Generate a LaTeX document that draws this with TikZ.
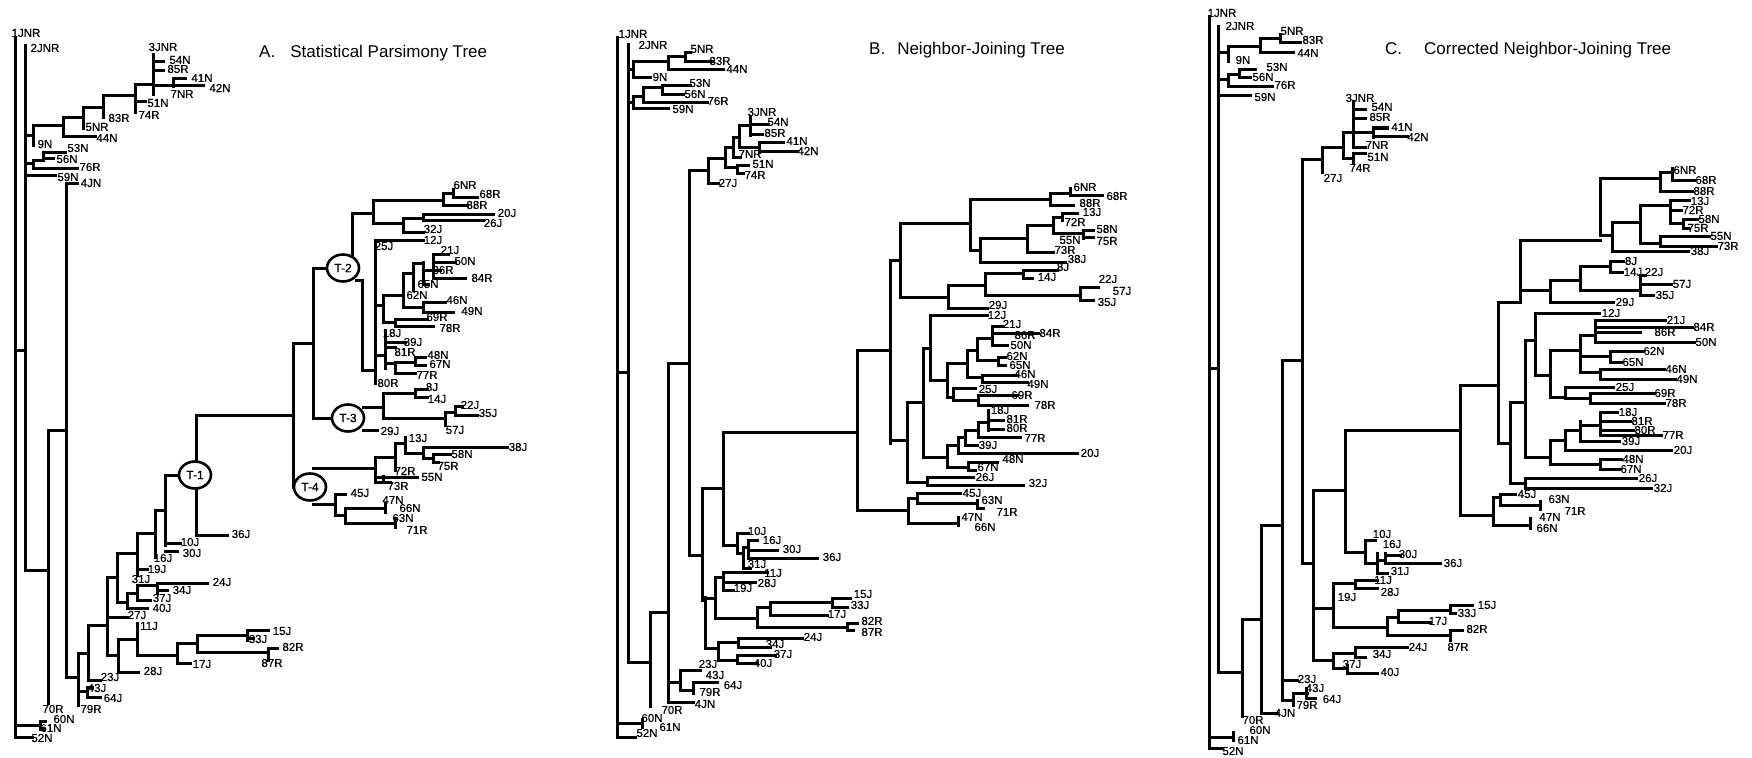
\documentclass[tikz,border=0pt]{standalone}
\usepackage{fontspec}
\setmainfont{Liberation Sans}
\newfontfamily\labfont[FakeBold=0.5]{Liberation Sans}
\usetikzlibrary{shapes.geometric}
\newcommand\hh[3]{\draw[br] (#2,#1) -- (#3,#1);}
\newcommand\vv[3]{\draw[br] (#1,#2) -- (#1,#3);}
\newcommand\LA[3]{\node[lab] (A-#3) at (#1,#2) {#3};}
\newcommand\LB[3]{\node[lab] (B-#3) at (#1,#2) {#3};}
\newcommand\LC[3]{\node[lab] (C-#3) at (#1,#2) {#3};}
\tikzset{
  br/.style={line width=3pt, line cap=rect},
  lab/.style={inner sep=0pt, font=\labfont\fontsize{11.5}{12}\selectfont},
  ttl/.style={inner sep=0pt, anchor=west, font=\fontsize{17}{18}\selectfont},
  tnode/.style={ellipse, draw, line width=2.6pt, fill=white, minimum width=32pt, minimum height=27pt, inner sep=0pt, font=\labfont\fontsize{12}{12}\selectfont}
}
\begin{document}
\begin{tikzpicture}[x=1pt,y=-1pt]
\fill[white] (0,0) rectangle (1752,757);
\useasboundingbox (0,0) rectangle (1752,757);
% ================= TREE A =================
\vv{15}{38}{737}\hh{737}{15}{32}
\hh{725}{15}{40}\vv{40}{721}{729}\hh{721}{40}{45}\hh{729}{40}{44}
\hh{350}{15}{25}\vv{25}{46}{570}\hh{570}{25}{48}\vv{48}{430}{703}
\hh{430}{48}{66}\vv{66}{183}{677}\hh{183}{66}{77}
\hh{677}{66}{78}\vv{78}{653}{705}\hh{691}{78}{87}\vv{87}{687}{697}\hh{697}{87}{100}\hh{687}{87}{92}
\hh{653}{78}{88}\vv{88}{625}{680}\hh{680}{88}{100}\hh{625}{88}{107}
\vv{107}{577}{655}\hh{655}{107}{118}\vv{118}{639}{672}\hh{672}{118}{138}
\hh{639}{118}{137}\vv{137}{623}{655}\hh{655}{137}{177}\vv{177}{643}{663}\hh{663}{177}{190}
\hh{643}{177}{197}\vv{197}{635}{652}\hh{635}{197}{247}\vv{247}{630}{640}\hh{630}{247}{268}\hh{638}{247}{253}
\hh{652}{197}{268}\vv{268}{648}{660}\hh{648}{268}{277}
\hh{617}{107}{127}\hh{577}{107}{117}\vv{117}{553}{602}\hh{602}{117}{127}\vv{127}{593}{608}\hh{608}{127}{147}
\hh{593}{127}{137}\vv{137}{585}{600}\hh{600}{137}{150}\hh{585}{137}{157}\vv{157}{583}{593}\hh{583}{157}{207}\hh{590}{157}{167}
\hh{553}{117}{137}\vv{137}{533}{575}\hh{569}{137}{147}\hh{533}{137}{155}\vv{155}{510}{557}
\hh{510}{155}{165}\vv{165}{475}{545}\hh{475}{165}{180}\hh{543}{165}{180}\hh{551}{165}{177}
% T-1 and upper
\vv{196}{415}{462}\vv{196}{488}{535}\hh{535}{196}{227}\hh{415}{196}{293}
\vv{293}{343}{487}\hh{487}{293}{296}\hh{343}{293}{313}\vv{313}{268}{418}
\hh{268}{313}{328}\hh{418}{313}{333}
% left clusters
\hh{135}{25}{33}\vv{33}{126}{145}\hh{126}{33}{63}\vv{63}{118}{136}\hh{136}{63}{95}
\hh{118}{63}{83}\vv{83}{108}{128}\hh{108}{83}{103}\vv{103}{96}{118}
\hh{96}{103}{135}\vv{135}{85}{113}\hh{102}{135}{145}
\hh{85}{135}{153}\vv{153}{55}{95}\hh{62}{153}{163}\hh{71}{153}{163}\hh{86}{153}{203}
\vv{173}{79}{87}\hh{79}{173}{185}
\hh{163}{25}{33}\vv{33}{160}{168}\hh{168}{33}{77}\hh{160}{33}{43}\vv{43}{152}{159}\hh{152}{43}{65}\hh{158}{43}{53}
\hh{175}{25}{55}
% T-2 upper
\vv{352}{213}{255}\hh{213}{352}{373}\vv{373}{200}{223}\hh{200}{373}{443}\vv{443}{193}{205}\hh{205}{443}{467}
\hh{193}{443}{453}\vv{453}{189}{197}\hh{197}{453}{477}
\hh{223}{373}{403}\vv{403}{218}{232}\hh{218}{403}{423}\vv{423}{214}{220}\hh{214}{423}{493}\hh{220}{423}{483}\hh{232}{403}{423}
% T-2 lower
\hh{280}{356}{362}\vv{362}{280}{370}\hh{370}{362}{375}\vv{375}{240}{383}\hh{240}{375}{423}
\hh{305}{375}{383}\vv{383}{295}{322}\hh{295}{383}{403}\vv{403}{273}{307}\hh{273}{403}{413}\vv{413}{263}{290}
\hh{263}{413}{423}\vv{423}{262}{284}\hh{270}{423}{433}\vv{433}{254}{278}
\hh{254}{433}{448}\hh{262}{433}{455}\hh{270}{433}{440}\hh{278}{433}{465}\hh{284}{423}{428}
\hh{307}{403}{423}\vv{423}{302}{312}\hh{302}{423}{445}\hh{312}{423}{453}
\hh{322}{383}{395}\vv{395}{319}{326}\hh{319}{395}{427}\hh{326}{395}{433}
\vv{385}{330}{368}\hh{342}{385}{405}\hh{347}{385}{395}\hh{355}{375}{385}
\hh{363}{385}{395}\vv{395}{362}{373}\hh{362}{395}{415}\vv{415}{357}{365}\hh{357}{415}{425}\hh{365}{415}{425}\hh{373}{395}{415}
% T-3
\hh{407}{363}{383}\vv{383}{393}{418}\hh{393}{383}{415}\vv{415}{389}{397}\hh{389}{415}{427}\hh{397}{415}{427}
\hh{418}{383}{445}\vv{445}{412}{425}\hh{412}{445}{455}\vv{455}{406}{415}\hh{415}{455}{477}\hh{406}{455}{462}
\hh{430}{363}{377}
% T-4
\hh{468}{313}{375}\vv{375}{457}{482}\hh{457}{375}{395}\vv{395}{443}{470}\hh{443}{395}{405}\vv{405}{437}{453}
\hh{453}{405}{423}\vv{423}{447}{458}\hh{447}{423}{507}\hh{458}{423}{433}\vv{433}{454}{462}\hh{454}{433}{450}\hh{462}{433}{438}
\hh{477}{375}{383}\vv{383}{476}{482}\hh{477}{383}{417}\hh{482}{375}{390}
\hh{504}{313}{335}\vv{335}{494}{515}\hh{494}{335}{345}\hh{515}{335}{345}\vv{345}{508}{523}
\hh{508}{345}{385}\vv{385}{503}{512}\hh{523}{345}{395}\vv{395}{518}{527}
\node[tnode] (T1) at (195,475) {T-1};
\node[tnode] (T2) at (343,268) {T-2};
\node[tnode] (T3) at (348,418) {T-3};
\node[tnode] (T4) at (310,487) {T-4};
\node[ttl] (tA) at (259,53) {A.\hspace{15pt}Statistical Parsimony Tree};
\LA{26}{33}{1JNR}\LA{45}{48}{2JNR}\LA{163}{47}{3JNR}\LA{180}{60}{54N}\LA{178}{69}{85R}\LA{202}{78}{41N}
\LA{220}{88}{42N}\LA{182}{94}{7NR}\LA{158}{103}{51N}\LA{149}{115}{74R}\LA{119}{118}{83R}\LA{97}{127}{5NR}
\LA{107}{138}{44N}\LA{45}{144}{9N}\LA{78}{148}{53N}\LA{67}{159}{56N}\LA{90}{167}{76R}\LA{68}{177}{59N}\LA{91}{183}{4JN}
\LA{465}{185}{6NR}\LA{490}{194}{68R}\LA{477}{205}{88R}\LA{507}{213}{20J}\LA{493}{223}{26J}\LA{433}{229}{32J}
\LA{433}{240}{12J}\LA{384}{246}{25J}\LA{450}{250}{21J}\LA{465}{261}{50N}\LA{443}{270}{86R}\LA{482}{278}{84R}
\LA{428}{284}{65N}\LA{417}{295}{62N}\LA{457}{300}{46N}\LA{472}{311}{49N}\LA{437}{317}{69R}\LA{450}{328}{78R}
\LA{392}{333}{18J}\LA{413}{342}{39J}\LA{405}{352}{81R}\LA{438}{355}{48N}\LA{440}{364}{67N}\LA{427}{375}{77R}
\LA{388}{383}{80R}\LA{432}{387}{8J}\LA{437}{399}{14J}\LA{470}{405}{22J}\LA{488}{413}{35J}\LA{390}{431}{29J}
\LA{455}{430}{57J}\LA{418}{438}{13J}\LA{518}{447}{38J}\LA{462}{454}{58N}\LA{448}{466}{75R}\LA{405}{471}{72R}
\LA{432}{477}{55N}\LA{398}{486}{73R}\LA{360}{493}{45J}\LA{393}{500}{47N}\LA{410}{508}{66N}\LA{403}{518}{63N}\LA{417}{530}{71R}
\LA{241}{534}{36J}\LA{190}{542}{10J}\LA{192}{553}{30J}\LA{163}{558}{16J}\LA{157}{569}{19J}\LA{141}{579}{31J}
\LA{222}{582}{24J}\LA{182}{590}{34J}\LA{162}{598}{37J}\LA{162}{608}{40J}\LA{137}{615}{27J}\LA{149}{626}{11J}
\LA{282}{631}{15J}\LA{258}{639}{33J}\LA{293}{647}{82R}\LA{272}{663}{87R}\LA{202}{664}{17J}\LA{153}{671}{28J}
\LA{110}{677}{23J}\LA{97}{688}{43J}\LA{113}{698}{64J}\LA{91}{709}{79R}\LA{53}{709}{70R}\LA{64}{719}{60N}\LA{51}{728}{61N}\LA{42}{738}{52N}
% ================= TREE B =================
\vv{617}{38}{737}\hh{737}{617}{635}\hh{723}{617}{642}\vv{642}{719}{727}
\hh{372}{617}{628}\vv{628}{45}{662}\hh{662}{628}{650}\vv{650}{612}{706}\hh{612}{650}{668}
\vv{668}{363}{702}\hh{363}{668}{689}\vv{689}{170}{555}\hh{555}{689}{702}\vv{702}{488}{600}
\hh{488}{702}{723}\vv{723}{432}{545}\hh{545}{723}{737}\vv{737}{533}{553}\hh{533}{737}{748}
\hh{553}{737}{743}\vv{743}{547}{568}\hh{568}{743}{750}\hh{547}{743}{748}\vv{748}{540}{558}
\hh{540}{748}{757}\hh{550}{748}{777}\hh{558}{748}{817}
\hh{432}{723}{857}\vv{857}{350}{510}\hh{350}{857}{890}\hh{510}{857}{908}
\hh{70}{628}{633}\vv{633}{62}{78}\hh{78}{633}{650}\hh{62}{633}{668}\vv{668}{57}{70}\hh{70}{668}{723}
\hh{57}{668}{685}\vv{685}{53}{62}\hh{62}{685}{713}\hh{53}{685}{690}
\hh{103}{628}{633}\vv{633}{97}{109}\hh{109}{633}{668}\hh{97}{633}{643}\vv{643}{88}{103}\hh{103}{643}{707}
\hh{88}{643}{662}\vv{662}{86}{95}\hh{86}{662}{690}\hh{95}{662}{683}
\hh{170}{689}{708}\vv{708}{158}{183}\hh{183}{708}{718}\hh{158}{708}{725}\vv{725}{147}{167}\hh{167}{725}{737}
\vv{737}{165}{173}\hh{165}{737}{748}\hh{173}{737}{743}\hh{147}{725}{733}\vv{733}{137}{157}\hh{157}{733}{740}
\hh{137}{733}{739}\vv{739}{126}{147}\hh{147}{739}{759}\vv{759}{142}{152}\hh{142}{759}{783}\hh{151}{759}{797}
\hh{126}{739}{750}\vv{750}{117}{135}\hh{125}{750}{768}\hh{134}{750}{762}
\hh{598}{702}{715}\vv{705}{597}{648}\hh{648}{705}{718}
\vv{715}{577}{618}\hh{577}{715}{723}\vv{723}{572}{590}\hh{572}{723}{767}\hh{582}{723}{755}\hh{590}{723}{733}
\hh{618}{715}{757}\vv{757}{607}{627}\hh{607}{757}{770}\vv{770}{602}{615}\hh{602}{770}{832}\vv{832}{598}{607}
\hh{598}{832}{850}\hh{607}{832}{847}\hh{615}{770}{827}\hh{627}{757}{847}\vv{847}{623}{630}\hh{623}{847}{857}\hh{630}{847}{853}
\vv{718}{642}{660}\hh{642}{718}{738}\vv{738}{638}{647}\hh{638}{738}{802}\hh{647}{738}{770}\hh{660}{718}{737}
\vv{737}{655}{663}\hh{655}{737}{775}\hh{663}{737}{757}
\hh{682}{668}{680}\vv{680}{670}{690}\hh{670}{680}{700}\hh{690}{680}{693}\vv{693}{682}{693}\hh{682}{693}{717}
\hh{702}{668}{693}
\vv{890}{260}{443}\hh{260}{890}{900}\vv{900}{223}{297}\hh{223}{900}{970}\vv{970}{199}{250}
\hh{199}{970}{1050}\vv{1050}{193}{205}\hh{193}{1050}{1070}\vv{1070}{188}{195}\hh{195}{1070}{1102}\hh{205}{1050}{1073}
\hh{250}{970}{980}\vv{980}{238}{262}\hh{262}{980}{1065}\hh{238}{980}{1027}\vv{1027}{225}{252}\hh{252}{1027}{1053}
\hh{225}{1027}{1053}\vv{1053}{217}{233}\hh{217}{1053}{1062}\vv{1062}{213}{220}\hh{213}{1062}{1077}
\hh{233}{1053}{1083}\vv{1083}{230}{238}\hh{230}{1083}{1093}\hh{237}{1083}{1093}
\hh{297}{900}{948}\vv{948}{285}{308}\hh{308}{948}{987}\hh{285}{948}{985}\vv{985}{273}{295}
\hh{273}{985}{1023}\vv{1023}{270}{278}\hh{270}{1023}{1057}\hh{278}{1023}{1032}
\hh{295}{985}{1080}\vv{1080}{287}{300}\hh{287}{1080}{1098}\hh{300}{1080}{1093}
\hh{440}{890}{907}\vv{907}{402}{482}\hh{402}{907}{923}\hh{482}{907}{927}
\vv{923}{348}{457}\hh{348}{923}{930}\vv{930}{315}{380}\hh{315}{930}{987}\hh{380}{930}{947}
\vv{947}{363}{397}\hh{363}{947}{967}\vv{967}{350}{377}\hh{377}{967}{982}\vv{982}{375}{382}
\hh{375}{982}{1017}\hh{382}{982}{1027}\hh{350}{967}{977}\vv{977}{338}{360}\hh{360}{977}{998}
\vv{998}{357}{365}\hh{357}{998}{1005}\hh{365}{998}{1005}\hh{338}{977}{992}\vv{992}{326}{345}
\hh{326}{992}{1002}\hh{333}{992}{1038}\hh{345}{992}{1007}
\hh{397}{947}{953}\vv{953}{388}{400}\hh{388}{953}{975}\hh{400}{953}{978}\vv{978}{395}{405}\hh{395}{978}{1017}\hh{405}{978}{1027}
\hh{457}{923}{947}\vv{947}{445}{467}\hh{445}{947}{958}\vv{958}{437}{453}\hh{453}{958}{1077}\hh{437}{958}{965}
\vv{965}{430}{445}\hh{445}{965}{977}\hh{430}{965}{978}\vv{978}{422}{437}\hh{437}{978}{1020}\hh{422}{978}{988}
\vv{988}{410}{430}\hh{420}{988}{1003}\hh{429}{988}{1003}
\hh{467}{947}{968}\vv{968}{462}{470}\hh{462}{968}{997}\hh{470}{968}{975}
\vv{927}{477}{485}\hh{477}{927}{973}\hh{485}{927}{1023}
\vv{908}{498}{523}\hh{498}{908}{917}\vv{917}{493}{503}\hh{493}{917}{960}\hh{503}{917}{977}
\vv{977}{500}{508}\hh{508}{977}{983}\hh{523}{908}{957}\vv{958}{517}{525}
\node[ttl] (tB) at (869,50) {B.\hspace{12pt}Neighbor-Joining Tree};
\LB{633}{34}{1JNR}\LB{653}{45}{2JNR}\LB{702}{49}{5NR}\LB{720}{61}{83R}\LB{737}{69}{44N}\LB{660}{77}{9N}
\LB{700}{83}{53N}\LB{695}{94}{56N}\LB{718}{101}{76R}\LB{683}{109}{59N}\LB{762}{112}{3JNR}\LB{778}{122}{54N}
\LB{775}{133}{85R}\LB{797}{141}{41N}\LB{808}{151}{42N}\LB{750}{154}{7NR}\LB{763}{164}{51N}\LB{755}{175}{74R}\LB{728}{183}{27J}
\LB{1085}{187}{6NR}\LB{1117}{196}{68R}\LB{1090}{203}{88R}\LB{1092}{212}{13J}\LB{1075}{222}{72R}\LB{1107}{229}{58N}
\LB{1070}{240}{55N}\LB{1107}{241}{75R}\LB{1065}{250}{73R}\LB{1077}{259}{38J}\LB{1063}{267}{8J}\LB{1047}{277}{14J}
\LB{1108}{279}{22J}\LB{1122}{291}{57J}\LB{1107}{302}{35J}\LB{998}{305}{29J}\LB{997}{315}{12J}\LB{1012}{324}{21J}
\LB{1050}{333}{84R}\LB{1025}{335}{86R}\LB{1021}{345}{50N}\LB{1017}{356}{62N}\LB{1020}{365}{65N}\LB{1025}{374}{46N}
\LB{1038}{384}{49N}\LB{988}{389}{25J}\LB{1022}{395}{69R}\LB{1045}{405}{78R}\LB{1000}{410}{18J}\LB{1017}{419}{81R}
\LB{1017}{428}{80R}\LB{1035}{438}{77R}\LB{988}{445}{39J}\LB{1090}{453}{20J}\LB{1013}{459}{48N}\LB{988}{467}{67N}
\LB{985}{477}{26J}\LB{1038}{483}{32J}\LB{972}{493}{45J}\LB{992}{500}{63N}\LB{1007}{512}{71R}\LB{972}{517}{47N}\LB{985}{527}{66N}
\LB{757}{531}{10J}\LB{772}{540}{16J}\LB{792}{549}{30J}\LB{832}{557}{36J}\LB{757}{564}{31J}\LB{773}{573}{11J}
\LB{767}{583}{28J}\LB{743}{588}{19J}\LB{863}{594}{15J}\LB{860}{605}{33J}\LB{837}{614}{17J}\LB{872}{621}{82R}
\LB{872}{632}{87R}\LB{813}{637}{24J}\LB{775}{644}{34J}\LB{783}{654}{37J}\LB{763}{663}{40J}\LB{708}{664}{23J}
\LB{715}{675}{43J}\LB{733}{685}{64J}\LB{710}{692}{79R}\LB{705}{704}{4JN}\LB{672}{710}{70R}\LB{652}{718}{60N}
\LB{670}{727}{61N}\LB{647}{733}{52N}
% ================= TREE C =================
\vv{1209}{17}{748}\hh{748}{1209}{1222}\hh{737}{1209}{1233}\vv{1233}{732}{740}
\hh{368}{1209}{1218}\vv{1218}{27}{672}
\hh{53}{1218}{1228}\vv{1228}{47}{62}\hh{47}{1228}{1260}\vv{1260}{39}{53}\hh{53}{1260}{1293}\hh{39}{1260}{1280}\vv{1280}{35}{43}\hh{43}{1280}{1300}
\hh{80}{1218}{1228}\vv{1228}{75}{87}\hh{87}{1228}{1272}\hh{75}{1228}{1239}\vv{1239}{70}{78}\hh{70}{1239}{1255}\hh{78}{1239}{1250}
\hh{96}{1218}{1250}
\hh{672}{1218}{1242}\vv{1242}{619}{716}\hh{619}{1242}{1261}\vv{1261}{525}{713}\hh{713}{1261}{1277}
\hh{525}{1261}{1282}\vv{1282}{360}{700}\hh{360}{1282}{1302}\vv{1302}{159}{563}
\hh{159}{1302}{1322}\vv{1322}{147}{172}\hh{147}{1322}{1343}\vv{1343}{132}{158}\hh{158}{1343}{1353}\vv{1353}{153}{163}
\hh{153}{1353}{1365}\hh{132}{1343}{1373}\vv{1353}{102}{147}\hh{110}{1353}{1365}\hh{119}{1353}{1365}\hh{147}{1353}{1365}
\vv{1373}{128}{137}\hh{128}{1373}{1387}\hh{136}{1373}{1407}
\hh{680}{1282}{1297}\hh{700}{1282}{1293}\vv{1293}{693}{705}\hh{693}{1293}{1307}\vv{1306}{688}{698}\hh{698}{1306}{1315}
\hh{563}{1302}{1313}\vv{1313}{490}{660}\hh{490}{1313}{1345}\vv{1345}{430}{552}\hh{430}{1345}{1460}
\hh{552}{1345}{1365}\vv{1365}{540}{563}\hh{540}{1365}{1375}\hh{563}{1365}{1377}\vv{1377}{553}{573}
\hh{573}{1377}{1387}\hh{560}{1377}{1385}\vv{1385}{553}{563}\hh{555}{1385}{1400}\hh{563}{1385}{1440}
\hh{608}{1313}{1333}\vv{1333}{583}{627}\hh{583}{1333}{1355}\vv{1355}{580}{588}\hh{580}{1355}{1377}\hh{588}{1355}{1377}
\hh{627}{1333}{1387}\vv{1387}{617}{635}\hh{617}{1387}{1398}\vv{1398}{610}{622}\hh{610}{1398}{1450}
\vv{1450}{605}{613}\hh{605}{1450}{1472}\hh{613}{1450}{1455}\hh{622}{1398}{1430}
\hh{635}{1387}{1450}\vv{1450}{630}{640}\hh{630}{1450}{1462}
\hh{660}{1313}{1333}\vv{1333}{653}{668}\hh{653}{1333}{1355}\vv{1355}{647}{657}\hh{647}{1355}{1407}\hh{657}{1355}{1365}
\hh{668}{1333}{1347}\vv{1347}{665}{673}\hh{673}{1347}{1377}
% C right
\vv{1460}{385}{515}\hh{385}{1460}{1498}\vv{1498}{302}{443}
\hh{302}{1498}{1520}\vv{1520}{240}{302}
\hh{240}{1520}{1600}\vv{1600}{178}{235}
\hh{178}{1600}{1660}\vv{1660}{172}{191}\hh{191}{1660}{1692}\hh{172}{1660}{1672}\vv{1672}{168}{180}\hh{180}{1672}{1694}
\hh{235}{1600}{1612}\vv{1612}{222}{251}\hh{251}{1612}{1688}
\hh{222}{1612}{1640}\vv{1640}{205}{243}\hh{243}{1640}{1660}\vv{1660}{236}{246}\hh{236}{1660}{1709}\hh{246}{1660}{1716}
\hh{205}{1640}{1670}\vv{1670}{200}{223}\hh{200}{1670}{1689}\hh{210}{1670}{1681}\hh{223}{1670}{1683}\vv{1683}{219}{228}\hh{219}{1683}{1697}\hh{228}{1683}{1688}
\hh{290}{1520}{1550}\vv{1550}{280}{302}\hh{302}{1550}{1613}\hh{280}{1550}{1580}\vv{1580}{266}{290}
\hh{266}{1580}{1610}\vv{1610}{261}{272}\hh{261}{1610}{1623}\hh{272}{1610}{1622}
\hh{290}{1580}{1640}\vv{1640}{275}{295}\hh{275}{1640}{1645}\hh{284}{1640}{1671}\hh{295}{1640}{1653}
\hh{443}{1498}{1510}\vv{1510}{402}{483}
\hh{402}{1510}{1525}\vv{1525}{340}{457}
\hh{340}{1525}{1535}\vv{1535}{313}{375}\hh{313}{1535}{1599}
\hh{375}{1535}{1550}\vv{1550}{350}{397}
\hh{350}{1550}{1580}\vv{1580}{335}{372}
\hh{335}{1580}{1595}\vv{1595}{320}{342}\hh{320}{1595}{1665}\hh{327}{1595}{1692}\hh{342}{1595}{1694}\hh{332}{1595}{1640}
\hh{356}{1580}{1610}\vv{1610}{351}{362}\hh{351}{1610}{1642}\hh{362}{1610}{1621}
\hh{372}{1580}{1600}\vv{1600}{369}{379}\hh{369}{1600}{1664}\hh{379}{1600}{1675}
\hh{397}{1550}{1565}\vv{1565}{387}{398}\hh{387}{1565}{1613}\hh{398}{1565}{1590}\vv{1590}{393}{403}\hh{393}{1590}{1653}\hh{403}{1590}{1664}
\hh{457}{1525}{1550}\vv{1550}{440}{464}
\hh{440}{1550}{1565}\vv{1565}{430}{450}\hh{450}{1565}{1671}
\hh{430}{1565}{1580}\vv{1580}{421}{441}\hh{441}{1580}{1619}\hh{425}{1580}{1600}\vv{1600}{412}{435}\hh{435}{1600}{1661}
\hh{412}{1600}{1617}\hh{421}{1600}{1630}\hh{430}{1600}{1633}
\hh{464}{1550}{1600}\vv{1600}{459}{469}\hh{459}{1600}{1621}\hh{469}{1600}{1619}
\hh{483}{1510}{1525}\vv{1525}{478}{488}\hh{478}{1525}{1636}\hh{488}{1525}{1651}
\hh{515}{1460}{1493}\vv{1493}{497}{525}\hh{497}{1493}{1500}\vv{1500}{494}{505}\hh{494}{1500}{1515}\hh{505}{1500}{1540}
\vv{1540}{501}{509}\hh{525}{1493}{1530}\vv{1530}{518}{528}
\node[ttl] (tC) at (1385,50) {C.\hspace{22pt}Corrected Neighbor-Joining Tree};
\LC{1222}{13}{1JNR}\LC{1240}{26}{2JNR}\LC{1292}{31}{5NR}\LC{1313}{40}{83R}\LC{1308}{53}{44N}\LC{1243}{60}{9N}
\LC{1277}{67}{53N}\LC{1263}{77}{56N}\LC{1285}{85}{76R}\LC{1265}{97}{59N}\LC{1360}{98}{3JNR}\LC{1382}{107}{54N}
\LC{1380}{117}{85R}\LC{1402}{127}{41N}\LC{1418}{137}{42N}\LC{1377}{145}{7NR}\LC{1378}{157}{51N}\LC{1360}{168}{74R}\LC{1333}{178}{27J}
\LC{1685}{170}{6NR}\LC{1706}{180}{68R}\LC{1704}{191}{88R}\LC{1700}{201}{13J}\LC{1693}{210}{72R}\LC{1709}{219}{58N}
\LC{1698}{228}{75R}\LC{1721}{236}{55N}\LC{1728}{246}{73R}\LC{1700}{251}{38J}\LC{1631}{261}{8J}\LC{1633}{272}{14J}
\LC{1654}{272}{22J}\LC{1682}{284}{57J}\LC{1665}{295}{35J}\LC{1625}{302}{29J}\LC{1611}{313}{12J}\LC{1676}{320}{21J}
\LC{1704}{327}{84R}\LC{1665}{332}{86R}\LC{1706}{342}{50N}\LC{1654}{351}{62N}\LC{1633}{362}{65N}\LC{1676}{369}{46N}
\LC{1687}{379}{49N}\LC{1625}{387}{25J}\LC{1665}{393}{69R}\LC{1676}{403}{78R}\LC{1628}{412}{18J}\LC{1642}{421}{81R}
\LC{1645}{430}{80R}\LC{1673}{435}{77R}\LC{1631}{441}{39J}\LC{1683}{450}{20J}\LC{1633}{459}{48N}\LC{1631}{469}{67N}
\LC{1648}{478}{26J}\LC{1663}{488}{32J}\LC{1527}{494}{45J}\LC{1559}{499}{63N}\LC{1575}{511}{71R}\LC{1550}{517}{47N}\LC{1547}{528}{66N}
\LC{1382}{534}{10J}\LC{1392}{544}{16J}\LC{1408}{554}{30J}\LC{1453}{563}{36J}\LC{1400}{571}{31J}\LC{1383}{580}{11J}
\LC{1390}{592}{28J}\LC{1347}{597}{19J}\LC{1487}{605}{15J}\LC{1467}{613}{33J}\LC{1438}{621}{17J}\LC{1477}{629}{82R}
\LC{1458}{647}{87R}\LC{1418}{647}{24J}\LC{1382}{654}{34J}\LC{1352}{664}{37J}\LC{1390}{672}{40J}\LC{1307}{679}{23J}
\LC{1315}{688}{43J}\LC{1332}{699}{64J}\LC{1307}{705}{79R}\LC{1285}{713}{4JN}\LC{1253}{720}{70R}\LC{1260}{730}{60N}
\LC{1248}{740}{61N}\LC{1233}{751}{52N}
\end{tikzpicture}
\end{document}
